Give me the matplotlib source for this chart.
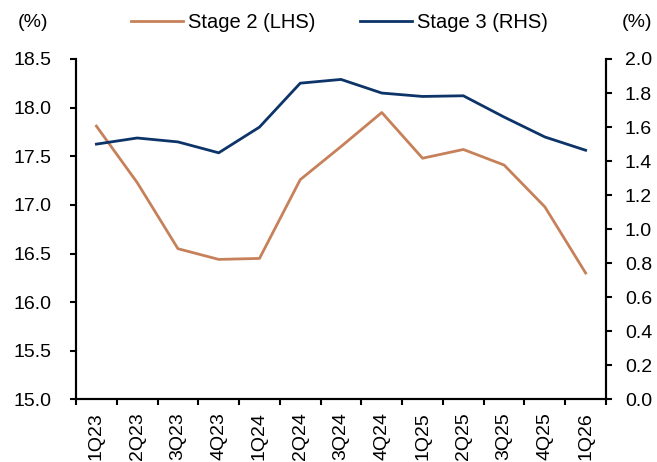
import matplotlib
matplotlib.use("Agg")
import matplotlib.pyplot as plt
import numpy as np

plt.rcParams['font.family'] = ['Liberation Sans', 'DejaVu Sans']

quarters = ["1Q23", "2Q23", "3Q23", "4Q23", "1Q24", "2Q24", "3Q24", "4Q24",
            "1Q25", "2Q25", "3Q25", "4Q25", "1Q26"]
stage2 = [17.81, 17.23, 16.55, 16.44, 16.45, 17.26, 17.60, 17.95,
          17.48, 17.57, 17.41, 16.98, 16.30]
stage3 = [1.50, 1.536, 1.513, 1.449, 1.60, 1.858, 1.880, 1.80,
          1.78, 1.784, 1.659, 1.542, 1.464]
left_ticks = [15.0, 15.5, 16.0, 16.5, 17.0, 17.5, 18.0, 18.5]
right_ticks = [0.0, 0.2, 0.4, 0.6, 0.8, 1.0, 1.2, 1.4, 1.6, 1.8, 2.0]

c2 = "#C6815A"
c3 = "#0C3468"
fs = 14

fig = plt.figure(figsize=(6.57, 4.62), dpi=100)
ax = fig.add_axes([0.1157, 0.1353, 0.8067, 0.737])
ax2 = ax.twinx()

x = np.arange(len(quarters))
l2, = ax.plot(x, stage2, color=c2, lw=2.0, label="Stage 2 (LHS)")
l3, = ax2.plot(x, stage3, color=c3, lw=2.0, label="Stage 3 (RHS)")

ax.set_xlim(-0.5, len(quarters) - 0.5)
ax.set_ylim(15.0, 18.5)
ax2.set_ylim(0.0, 2.0)
ax.set_yticks(left_ticks)
ax.set_yticklabels([f"{v:.1f}" for v in left_ticks])
ax2.set_yticks(right_ticks)
ax2.set_yticklabels([f"{v:.1f}" for v in right_ticks])

ax.set_xticks(np.arange(len(quarters) + 1) - 0.5)
ax.set_xticklabels([])
ax.set_xticks(x, minor=True)
ax.set_xticklabels(quarters, minor=True, rotation=90)
ax.tick_params(axis='x', which='minor', length=0, labelsize=fs, pad=9)
ax.tick_params(axis='x', which='major', length=4.5, width=1.5, direction='out')
ax.tick_params(axis='y', length=4.5, width=1.5, direction='out', labelsize=fs, pad=13)
ax2.tick_params(axis='y', length=4.5, width=1.5, direction='out', labelsize=fs, pad=9)

for a in (ax, ax2):
    a.spines['top'].set_visible(False)
    for s in ('left', 'right', 'bottom'):
        a.spines[s].set_linewidth(1.5)

fig.text(0.050, 0.951, "(%)", fontsize=fs, ha='center', va='center')
fig.text(0.970, 0.951, "(%)", fontsize=fs, ha='center', va='center')

fig.legend(handles=[l2, l3], loc='center', bbox_to_anchor=(0.517, 0.951),
           ncol=2, frameon=False, fontsize=14.5, handlelength=2.6,
           columnspacing=2.2, handletextpad=0.25, borderpad=0.2)

fig.savefig("out.png", dpi=100)
